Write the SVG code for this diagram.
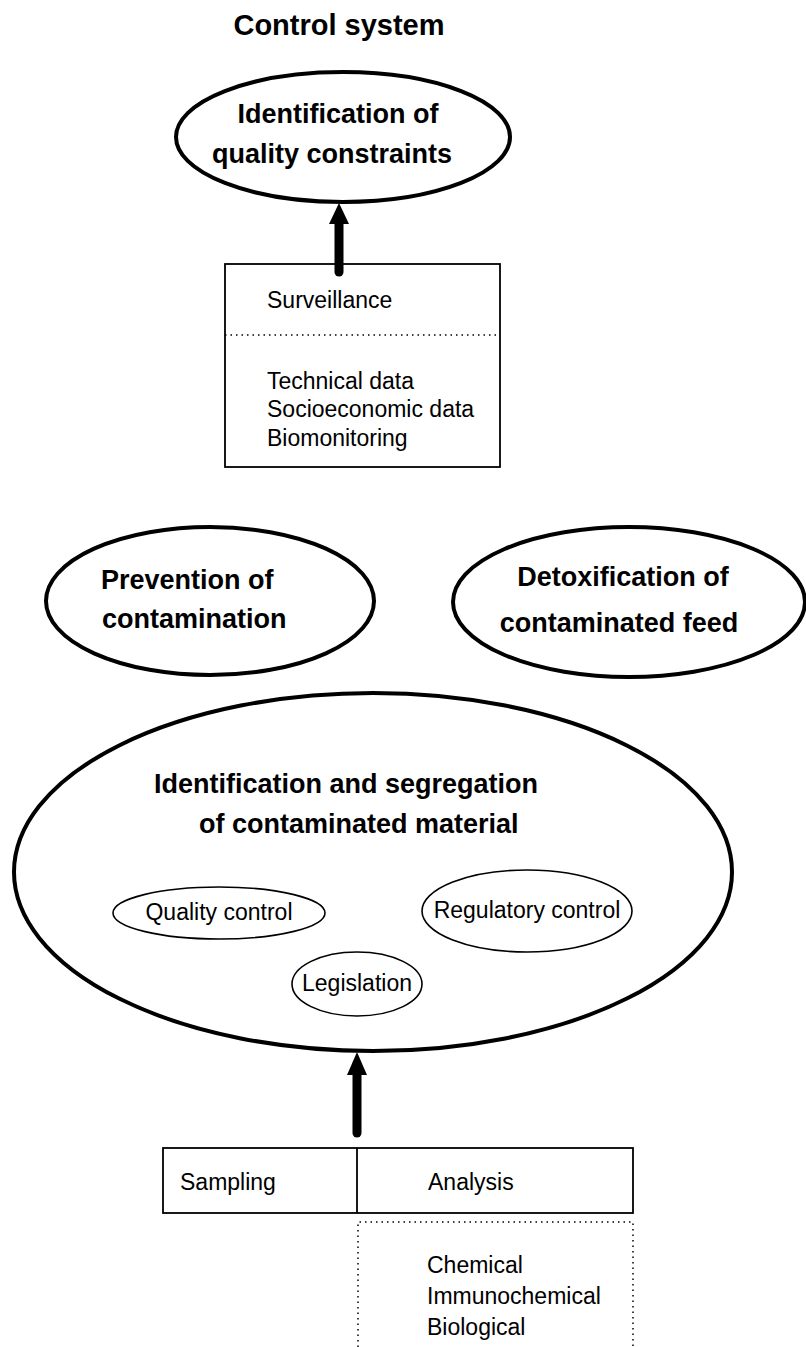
<svg xmlns="http://www.w3.org/2000/svg" width="806" height="1347" viewBox="0 0 806 1347">
<style>
.b{font-family:"Liberation Sans",Arial,sans-serif;font-weight:bold;font-size:27px;fill:#000}
.r{font-family:"Liberation Sans",Arial,sans-serif;font-size:23px;fill:#000}
.big{fill:none;stroke:#000;stroke-width:4}
.sm{fill:none;stroke:#000;stroke-width:1.6}
.box{fill:none;stroke:#000;stroke-width:1.8}
.dot{fill:none;stroke:#000;stroke-width:1.5;stroke-dasharray:1.5 4}
.shaft{stroke:#000;stroke-width:9;stroke-linecap:round}
</style>
<rect width="806" height="1347" fill="#fff"/>
<text class="b" x="339" y="35" text-anchor="middle" style="font-size:29px">Control system</text>
<g id="quality-constraints">
<ellipse class="big" cx="343" cy="137" rx="167" ry="65"/>
<text class="b" x="338" y="123" text-anchor="middle">Identification of</text>
<text class="b" x="332" y="163" text-anchor="middle">quality constraints</text>
</g>
<g id="surveillance">
<rect class="box" x="225" y="264" width="275" height="203"/>
<line class="dot" x1="225" y1="335" x2="500" y2="335"/>
<text class="r" x="267" y="308">Surveillance</text>
<text class="r" x="267" y="389">Technical data</text>
<text class="r" x="267" y="417">Socioeconomic data</text>
<text class="r" x="267" y="446">Biomonitoring</text>
</g>
<g id="prevention">
<ellipse class="big" cx="210" cy="601" rx="164" ry="74"/>
<text class="b" x="101" y="589">Prevention of</text>
<text class="b" x="102" y="628">contamination</text>
</g>
<g id="detoxification">
<ellipse class="big" cx="629" cy="602" rx="176" ry="75"/>
<text class="b" x="623" y="586" text-anchor="middle">Detoxification of</text>
<text class="b" x="619" y="632" text-anchor="middle">contaminated feed</text>
</g>
<g id="identification-segregation">
<ellipse class="big" cx="373" cy="872" rx="359" ry="179"/>
<text class="b" x="154" y="793">Identification and segregation</text>
<text class="b" x="199" y="833">of contaminated material</text>
</g>
<g id="quality-control">
<ellipse class="sm" cx="219" cy="913" rx="106" ry="26"/>
<text class="r" x="219" y="920" text-anchor="middle">Quality control</text>
</g>
<g id="regulatory-control">
<ellipse class="sm" cx="527" cy="911" rx="105" ry="41"/>
<text class="r" x="527" y="918" text-anchor="middle">Regulatory control</text>
</g>
<g id="legislation">
<ellipse class="sm" cx="357" cy="984" rx="65" ry="32"/>
<text class="r" x="357" y="991" text-anchor="middle">Legislation</text>
</g>
<g id="sampling-analysis">
<rect class="box" x="163" y="1148" width="470" height="65"/>
<line class="box" x1="357" y1="1148" x2="357" y2="1213"/>
<text class="r" x="180" y="1190">Sampling</text>
<text class="r" x="428" y="1190">Analysis</text>
</g>
<g id="analysis-methods">
<polyline class="dot" points="358,1347 358,1222 633,1222 633,1347"/>
<text class="r" x="427" y="1273">Chemical</text>
<text class="r" x="427" y="1304">Immunochemical</text>
<text class="r" x="427" y="1335">Biological</text>
</g>
<g id="connectors">
<line class="shaft" x1="339" y1="272" x2="339" y2="220"/>
<polygon points="339,203 329,224 349,224" fill="#000"/>
<line class="shaft" x1="357" y1="1133" x2="357" y2="1070"/>
<polygon points="357,1052 347,1075 367,1075" fill="#000"/>
</g>
</svg>
